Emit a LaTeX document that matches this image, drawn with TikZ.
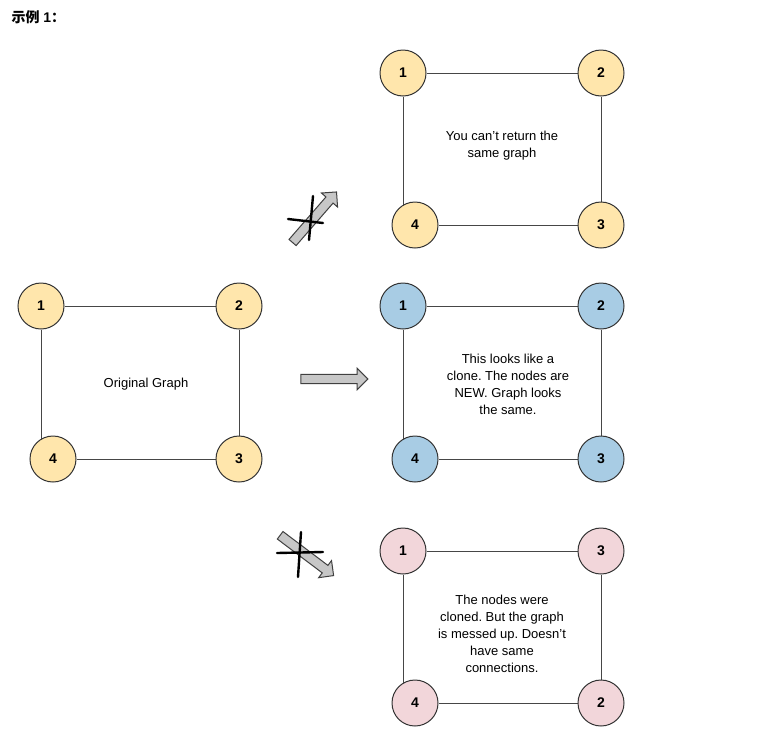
\documentclass[tikz,border=0pt]{standalone}
\usepackage{fontspec}
\setmainfont{Liberation Sans}
\newfontfamily\cjkfont{Noto Sans CJK SC}
\usepackage{xcolor}
\usetikzlibrary{arrows.meta,shapes.arrows,backgrounds,positioning}

\definecolor{nodeyellow}{RGB}{255,230,172}
\definecolor{nodeblue}{RGB}{168,204,228}
\definecolor{nodepink}{RGB}{242,214,218}
\definecolor{edgegray}{RGB}{70,70,70}

\tikzset{
  vert/.style={circle,draw=black!80,line width=1pt,minimum size=46pt,inner sep=0pt,
    font=\fontsize{14}{16}\selectfont\bfseries},
  yel/.style={vert,fill=nodeyellow},
  blu/.style={vert,fill=nodeblue},
  pnk/.style={vert,fill=nodepink},
  edge/.style={draw=edgegray,line width=0.8pt},
  caption/.style={align=center,font=\fontsize{13}{17}\selectfont},
  bigarrow/.style={single arrow,draw=black!75,fill=black!22,line width=1pt,
    inner sep=4.2pt,single arrow head extend=6pt,minimum height=67pt},
  crossout/.style={line width=2.4pt,line cap=round,black}
}

\begin{document}
\frenchspacing
\begin{tikzpicture}[x=1pt,y=-1pt]
			
			\useasboundingbox (0,0) rectangle (767,745);
			
			% title
			\node[anchor=west,font=\fontsize{14}{16}\selectfont\bfseries] (title) at (8,17) {{\cjkfont\bfseries 示例} 1{\cjkfont\bfseries ：}};
			
			% original graph
			\node[yel] (o1) at (41,306) {1};
			\node[yel] (o2) at (239,306) {2};
			\node[yel] (o4) at (53,459) {4};
			\node[yel] (o3) at (239,459) {3};
			\node[caption] (otext) at (146,384) {Original Graph};
			
			% same graph returned
			\node[yel] (t1) at (403,73) {1};
			\node[yel] (t2) at (601,73) {2};
			\node[yel] (t4) at (415,225) {4};
			\node[yel] (t3) at (601,225) {3};
			\node[caption] (ttext) at (502,146) {You can\symbol{39}t return the\\same graph};
			
			% correct clone
			\node[blu] (c1) at (403,306) {1};
			\node[blu] (c2) at (601,306) {2};
			\node[blu] (c4) at (415,459) {4};
			\node[blu] (c3) at (601,459) {3};
			\node[caption] (ctext) at (508,384) {This looks like a\\clone. The nodes are\\NEW. Graph looks\\the same.};
			
			% wrong clone
			\node[pnk] (w1) at (403,551) {1};
			\node[pnk] (w3) at (601,551) {3};
			\node[pnk] (w4) at (415,703) {4};
			\node[pnk] (w2) at (601,703) {2};
			\node[caption] (wtext) at (502,634) {The nodes were\\cloned. But the graph\\is messed up. Doesn\symbol{39}t\\have same\\connections.};
			
			% edges behind the nodes
			\begin{scope}[on background layer]
				\draw[edge] (o1) -- (o2) -- (o3) -- (o4);
				\draw[edge] (o1) -- (o1 |- o4);
				\draw[edge] (t1) -- (t2) -- (t3) -- (t4);
				\draw[edge] (t1) -- (t1 |- t4);
				\draw[edge] (c1) -- (c2) -- (c3) -- (c4);
				\draw[edge] (c1) -- (c1 |- c4);
				\draw[edge] (w1) -- (w3) -- (w2) -- (w4);
				\draw[edge] (w1) -- (w1 |- w4);
			\end{scope}
			
			% arrows between the graphs
			\node[bigarrow] (aup) at (313,219) [rotate=49] {};
			\node[bigarrow] (amid) at (332,379) {};
			\node[bigarrow] (adown) at (305,554) [rotate=-37] {};
			
			% crossing strokes
			\draw[crossout] (288,219) -- (323,223);
			\draw[crossout] (313,196) -- (309,240);
			\draw[crossout] (277,553) -- (323,552);
			\draw[crossout] (301,532) -- (298,577);
			
		\end{tikzpicture}
\end{document}
